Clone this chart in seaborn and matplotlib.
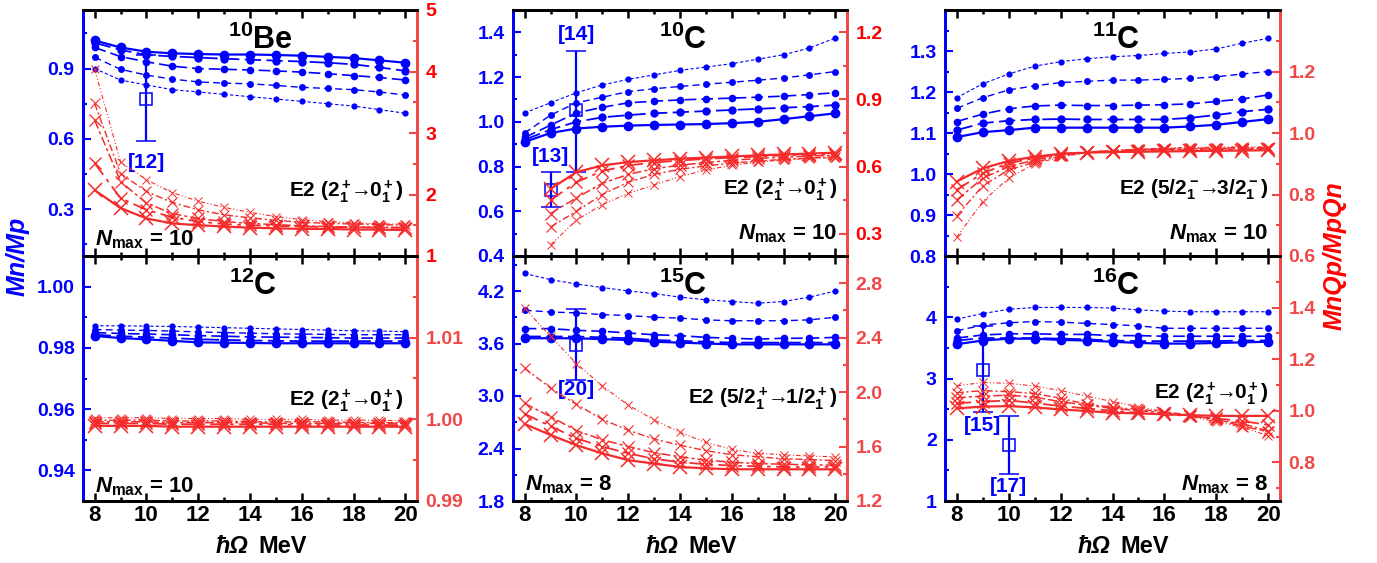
import matplotlib
matplotlib.use('Agg')
import matplotlib.pyplot as plt
import seaborn as sns
from matplotlib.ticker import MultipleLocator, FixedLocator, FormatStrFormatter, AutoMinorLocator

# hbar*Omega grid (MeV)
HW = [8, 9, 10, 11, 12, 13, 14, 15, 16, 17, 18, 19, 20]
HW_C10_RED = [9, 10, 11, 12, 13, 14, 15, 16, 17, 18, 19, 20]

# series order: solid (largest markers) first, thinnest dashed last
BE10_BLUE = [
    [1.02, 0.99, 0.972, 0.965, 0.962, 0.96, 0.96, 0.958, 0.955, 0.95, 0.945, 0.935, 0.925],
    [1.01, 0.98, 0.958, 0.952, 0.947, 0.942, 0.938, 0.934, 0.93, 0.925, 0.918, 0.905, 0.89],
    [0.99, 0.951, 0.929, 0.91, 0.9, 0.897, 0.894, 0.89, 0.885, 0.878, 0.87, 0.862, 0.851],
    [0.948, 0.897, 0.872, 0.855, 0.843, 0.838, 0.835, 0.828, 0.82, 0.815, 0.81, 0.8, 0.787],
    [0.9, 0.851, 0.83, 0.81, 0.8, 0.79, 0.78, 0.77, 0.76, 0.75, 0.74, 0.725, 0.709],
]
BE10_RED = [
    [2.07, 1.78, 1.61, 1.53, 1.5, 1.48, 1.46, 1.45, 1.44, 1.44, 1.43, 1.43, 1.42],
    [2.51, 1.94, 1.75, 1.63, 1.56, 1.52, 1.5, 1.49, 1.48, 1.47, 1.47, 1.46, 1.46],
    [3.21, 2.21, 1.86, 1.69, 1.61, 1.56, 1.53, 1.51, 1.49, 1.48, 1.47, 1.47, 1.46],
    [3.48, 2.34, 2.05, 1.87, 1.75, 1.67, 1.62, 1.58, 1.55, 1.53, 1.52, 1.51, 1.5],
    [4.04, 2.53, 2.24, 2.03, 1.89, 1.79, 1.71, 1.64, 1.59, 1.56, 1.54, 1.52, 1.52],
]
C12_BLUE = [
    [0.9839, 0.9832, 0.9828, 0.9823, 0.9818, 0.9817, 0.9816, 0.9815, 0.9815, 0.9815, 0.9815, 0.9815, 0.9815],
    [0.9843, 0.9838, 0.9835, 0.9832, 0.9828, 0.9826, 0.9824, 0.9823, 0.9822, 0.9822, 0.9822, 0.9822, 0.9822],
    [0.9850, 0.9847, 0.9845, 0.9843, 0.9840, 0.9838, 0.9836, 0.9835, 0.9834, 0.9833, 0.9832, 0.9832, 0.9832],
    [0.9860, 0.9858, 0.9857, 0.9855, 0.9852, 0.9850, 0.9848, 0.9846, 0.9845, 0.9844, 0.9843, 0.9843, 0.9843],
    [0.9872, 0.9872, 0.9871, 0.9870, 0.9868, 0.9866, 0.9864, 0.9862, 0.9860, 0.9858, 0.9856, 0.9855, 0.9853],
]
C12_RED = [
    [0.9992, 0.9992, 0.9992, 0.9991, 0.9991, 0.9991, 0.9991, 0.9991, 0.9991, 0.9991, 0.9991, 0.9991, 0.9991],
    [0.9995, 0.9995, 0.9995, 0.9994, 0.9994, 0.9994, 0.9994, 0.9994, 0.9993, 0.9993, 0.9993, 0.9993, 0.9993],
    [0.9997, 0.9997, 0.9997, 0.9996, 0.9996, 0.9996, 0.9996, 0.9995, 0.9995, 0.9995, 0.9995, 0.9995, 0.9995],
    [0.9999, 0.9999, 0.9999, 0.9998, 0.9998, 0.9998, 0.9997, 0.9997, 0.9997, 0.9997, 0.9996, 0.9996, 0.9996],
    [1.0002, 1.0002, 1.0002, 1.0001, 1.0001, 1.0001, 1.0000, 1.0000, 1.0000, 0.9999, 0.9999, 0.9999, 0.9998],
]
C10_BLUE = [
    [0.91, 0.95, 0.97, 0.978, 0.983, 0.986, 0.988, 0.99, 0.994, 1.0, 1.012, 1.025, 1.038],
    [0.92, 0.965, 1.0, 1.02, 1.03, 1.038, 1.043, 1.048, 1.053, 1.058, 1.063, 1.068, 1.075],
    [0.93, 0.985, 1.04, 1.065, 1.085, 1.092, 1.098, 1.102, 1.106, 1.11, 1.115, 1.122, 1.13],
    [0.95, 1.03, 1.085, 1.11, 1.135, 1.148, 1.158, 1.168, 1.177, 1.186, 1.196, 1.21, 1.225],
    [1.04, 1.085, 1.13, 1.165, 1.19, 1.21, 1.23, 1.245, 1.26, 1.28, 1.30, 1.33, 1.375],
]
C10_RED = [
    [0.5, 0.575, 0.605, 0.62, 0.628, 0.635, 0.64, 0.645, 0.65, 0.654, 0.658, 0.662],
    [0.45, 0.53, 0.58, 0.605, 0.618, 0.627, 0.634, 0.64, 0.645, 0.65, 0.653, 0.656],
    [0.39, 0.46, 0.525, 0.565, 0.59, 0.606, 0.618, 0.628, 0.636, 0.642, 0.647, 0.65],
    [0.33, 0.40, 0.475, 0.53, 0.565, 0.588, 0.603, 0.615, 0.625, 0.632, 0.638, 0.643],
    [0.25, 0.36, 0.43, 0.48, 0.518, 0.555, 0.585, 0.605, 0.62, 0.63, 0.636, 0.64],
]
C15_BLUE = [
    [3.66, 3.66, 3.66, 3.65, 3.64, 3.62, 3.61, 3.60, 3.59, 3.59, 3.59, 3.59, 3.59],
    [3.68, 3.68, 3.68, 3.67, 3.66, 3.64, 3.63, 3.62, 3.61, 3.61, 3.61, 3.61, 3.61],
    [3.77, 3.77, 3.75, 3.74, 3.72, 3.70, 3.69, 3.67, 3.66, 3.65, 3.66, 3.66, 3.67],
    [3.98, 3.96, 3.95, 3.93, 3.92, 3.90, 3.89, 3.87, 3.86, 3.86, 3.86, 3.87, 3.90],
    [4.40, 4.33, 4.28, 4.24, 4.20, 4.17, 4.13, 4.10, 4.08, 4.06, 4.08, 4.13, 4.20],
]
C15_RED = [
    [1.766, 1.685, 1.61, 1.55, 1.50, 1.475, 1.45, 1.44, 1.433, 1.433, 1.433, 1.433, 1.433],
    [1.84, 1.75, 1.66, 1.60, 1.55, 1.51, 1.485, 1.47, 1.46, 1.455, 1.45, 1.45, 1.45],
    [1.917, 1.82, 1.717, 1.65, 1.60, 1.555, 1.525, 1.50, 1.485, 1.475, 1.47, 1.465, 1.464],
    [2.175, 2.03, 1.91, 1.80, 1.72, 1.655, 1.61, 1.57, 1.54, 1.525, 1.51, 1.505, 1.496],
    [2.616, 2.41, 2.21, 2.045, 1.905, 1.795, 1.705, 1.63, 1.58, 1.55, 1.54, 1.53, 1.525],
]
C11_BLUE = [
    [1.09, 1.102, 1.107, 1.113, 1.113, 1.113, 1.113, 1.113, 1.113, 1.116, 1.12, 1.127, 1.134],
    [1.107, 1.124, 1.13, 1.133, 1.134, 1.133, 1.133, 1.133, 1.133, 1.137, 1.144, 1.152, 1.158],
    [1.128, 1.146, 1.159, 1.166, 1.168, 1.167, 1.167, 1.168, 1.169, 1.171, 1.177, 1.183, 1.193],
    [1.16, 1.186, 1.205, 1.215, 1.223, 1.226, 1.229, 1.229, 1.231, 1.233, 1.237, 1.244, 1.25],
    [1.186, 1.22, 1.244, 1.263, 1.274, 1.281, 1.286, 1.289, 1.294, 1.298, 1.305, 1.319, 1.331],
]
C11_RED = [
    [0.842, 0.885, 0.909, 0.923, 0.932, 0.936, 0.938, 0.939, 0.94, 0.941, 0.942, 0.943, 0.944],
    [0.815, 0.869, 0.902, 0.918, 0.932, 0.938, 0.941, 0.943, 0.944, 0.945, 0.946, 0.947, 0.947],
    [0.782, 0.853, 0.891, 0.912, 0.928, 0.937, 0.942, 0.945, 0.947, 0.948, 0.949, 0.95, 0.95],
    [0.73, 0.828, 0.88, 0.905, 0.925, 0.937, 0.943, 0.947, 0.949, 0.95, 0.951, 0.952, 0.952],
    [0.661, 0.777, 0.853, 0.9, 0.922, 0.936, 0.943, 0.948, 0.951, 0.953, 0.954, 0.955, 0.955],
]
C16_BLUE = [
    [3.56, 3.62, 3.65, 3.65, 3.63, 3.62, 3.60, 3.58, 3.57, 3.57, 3.58, 3.59, 3.60],
    [3.62, 3.66, 3.66, 3.66, 3.65, 3.64, 3.62, 3.61, 3.61, 3.61, 3.61, 3.62, 3.62],
    [3.66, 3.71, 3.73, 3.73, 3.72, 3.72, 3.70, 3.70, 3.69, 3.69, 3.69, 3.69, 3.69],
    [3.78, 3.87, 3.91, 3.93, 3.92, 3.90, 3.88, 3.86, 3.82, 3.82, 3.82, 3.82, 3.82],
    [3.97, 4.06, 4.13, 4.16, 4.16, 4.16, 4.15, 4.12, 4.10, 4.09, 4.09, 4.09, 4.09],
]
C16_RED = [
    [1.009, 1.016, 1.018, 1.013, 1.005, 0.999, 0.992, 0.99, 0.986, 0.983, 0.98, 0.98, 0.98],
    [1.029, 1.035, 1.04, 1.03, 1.018, 1.009, 1.0, 0.992, 0.986, 0.98, 0.97, 0.96, 0.945],
    [1.05, 1.057, 1.06, 1.053, 1.035, 1.022, 1.009, 1.0, 0.992, 0.98, 0.967, 0.94, 0.919],
    [1.07, 1.078, 1.074, 1.067, 1.048, 1.026, 1.013, 1.005, 0.996, 0.983, 0.965, 0.95, 0.922],
    [1.096, 1.11, 1.106, 1.096, 1.078, 1.057, 1.035, 1.016, 0.996, 0.977, 0.958, 0.936, 0.903],
]

# experimental points: x, value, lower, upper, reference label
BE10_EXP = ([10], [0.77], [0.59], [0.96], ["[12]"])
C10_EXP = ([9, 10], [0.695, 1.053], [0.618, 0.777], [0.777, 1.318], ["[13]", "[14]"])
C15_EXP = ([10], [3.58], [3.18], [3.99], ["[20]"])
C16_EXP = ([9, 10], [3.14, 1.91], [2.46, 1.44], [3.85, 2.39], ["[15]", "[17]"])

# labelled ticks (left blue axis, right red axis)
BE10_TICKS = ([0.3, 0.6, 0.9], [1, 2, 3, 4, 5])
C12_TICKS = ([0.94, 0.96, 0.98, 1.00], [0.99, 1.00, 1.01])
C10_TICKS = ([0.4, 0.6, 0.8, 1.0, 1.2, 1.4], [0.3, 0.6, 0.9, 1.2])
C15_TICKS = ([1.8, 2.4, 3.0, 3.6, 4.2], [1.2, 1.6, 2.0, 2.4, 2.8])
C11_TICKS = ([0.8, 0.9, 1.0, 1.1, 1.2, 1.3], [0.6, 0.8, 1.0, 1.2])
C16_TICKS = ([1, 2, 3, 4], [0.8, 1.0, 1.2, 1.4])

BLUE = '#0000ff'
RED = '#f52a2a'
RED_LIGHT = '#f04848'

blue_styles = [
    dict(ls='-', lw=1.6, ms=7),
    dict(ls=(0, (9, 3)), lw=1.3, ms=6),
    dict(ls=(0, (7, 3)), lw=1.2, ms=5.5),
    dict(ls=(0, (5, 3)), lw=1.0, ms=5),
    dict(ls=(0, (3, 2)), lw=0.8, ms=4.5),
]
red_styles = [
    dict(ls='-', lw=1.6, ms=10, mew=1.1),
    dict(ls=(0, (8, 3, 2, 3)), lw=1.3, ms=9, mew=1.0),
    dict(ls=(0, (6, 2, 2, 2)), lw=1.1, ms=8, mew=0.9),
    dict(ls=(0, (5, 2, 1.5, 2)), lw=1.0, ms=7, mew=0.8),
    dict(ls=(0, (4, 2, 1, 2, 1, 2)), lw=0.8, ms=6, mew=0.7),
]

sns.set_style('ticks')
plt.rcParams['font.family'] = ['Liberation Sans', 'DejaVu Sans']
plt.rcParams['font.weight'] = 'bold'
plt.rcParams['mathtext.fontset'] = 'custom'
plt.rcParams['mathtext.rm'] = 'Liberation Sans:bold'
plt.rcParams['mathtext.it'] = 'Liberation Sans:bold:italic'
plt.rcParams['mathtext.bf'] = 'Liberation Sans:bold'
plt.rcParams['mathtext.default'] = 'regular'

W, H = 1377, 563
fig = plt.figure(figsize=(W / 100, H / 100), dpi=100)

col_px = [(83, 334), (513, 334), (945, 335)]
row_px = [(10, 256), (256, 501)]  # top, bottom pixel of each row

NM10 = r"$\mathit{N}_{\mathrm{max}}$ = 10"
NM8 = r"$\mathit{N}_{\mathrm{max}}$ = 8"
E2_20 = r"E2 ($2^+_1\!\!\rightarrow\!\!0^+_1$)"

panels = [
    dict(r=0, c=0, title=r"$^{10}$Be", tx=0.53, blue=BE10_BLUE, red=BE10_RED, rx=HW,
         yl=(0.1, 1.15), yr=(1, 5), ticks=BE10_TICKS, fl='%.1f', fr='%d',
         e2=E2_20, e2pos=(0.96, 0.26), nm=NM10, nmpos=(0.035, 0.065), nmha='left',
         exp=BE10_EXP, labys=[0.5], rcol='#ff0000'),
    dict(r=1, c=0, title=r"$^{12}$C", tx=0.51, blue=C12_BLUE, red=C12_RED, rx=HW,
         yl=(0.93, 1.01), yr=(0.99, 1.02), ticks=C12_TICKS, fl='%.2f', fr='%.2f',
         e2=E2_20, e2pos=(0.96, 0.41), nm=NM10, nmpos=(0.035, 0.06), nmha='left',
         exp=None, labys=[], rcol=RED_LIGHT),
    dict(r=0, c=1, title=r"$^{10}$C", tx=0.51, blue=C10_BLUE, red=C10_RED, rx=HW_C10_RED,
         yl=(0.4, 1.5), yr=(0.2, 1.3), ticks=C10_TICKS, fl='%.1f', fr='%.1f',
         e2=E2_20, e2pos=(0.97, 0.27), nm=NM10, nmpos=(0.97, 0.09), nmha='right',
         exp=C10_EXP, labys=[0.845, 1.39], rcol='#ff0000'),
    dict(r=1, c=1, title=r"$^{15}$C", tx=0.51, blue=C15_BLUE, red=C15_RED, rx=HW,
         yl=(1.8, 4.6), yr=(1.2, 3.0), ticks=C15_TICKS, fl='%.1f', fr='%.1f',
         e2=r"E2 ($5/2^+_1\!\!\rightarrow\!\!1/2^+_1$)", e2pos=(0.97, 0.42),
         nm=NM8, nmpos=(0.035, 0.065), nmha='left',
         exp=C15_EXP, labys=[3.07], rcol=RED_LIGHT),
    dict(r=0, c=2, title=r"$^{11}$C", tx=0.51, blue=C11_BLUE, red=C11_RED, rx=HW,
         yl=(0.8, 1.4), yr=(0.6, 1.4), ticks=C11_TICKS, fl='%.1f', fr='%.1f',
         e2=r"E2 ($5/2^-_1\!\!\rightarrow\!\!3/2^-_1$)", e2pos=(0.965, 0.27),
         nm=NM10, nmpos=(0.965, 0.09), nmha='right',
         exp=None, labys=[], rcol=RED_LIGHT),
    dict(r=1, c=2, title=r"$^{16}$C", tx=0.51, blue=C16_BLUE, red=C16_RED, rx=HW,
         yl=(1, 5), yr=(0.65, 1.6), ticks=C16_TICKS, fl='%d', fr='%.1f',
         e2=E2_20, e2pos=(0.965, 0.44), nm=NM8, nmpos=(0.965, 0.065), nmha='right',
         exp=C16_EXP, labys=[2.24, 1.23], rcol=RED_LIGHT),
]

for p in panels:
    left, width = col_px[p['c']]
    top, bot = row_px[p['r']]
    ax = fig.add_axes([left / W, 1 - bot / H, width / W, (bot - top) / H])
    ax2 = ax.twinx()

    for ys, st in zip(p['blue'], blue_styles):
        sns.lineplot(x=HW, y=ys, ax=ax, color=BLUE, marker='o', ls=st['ls'], lw=st['lw'],
                     ms=st['ms'], mec=BLUE, mew=0, zorder=3)
    for ys, st in zip(p['red'], red_styles):
        sns.lineplot(x=p['rx'], y=ys, ax=ax2, color=RED, marker='x', ls=st['ls'], lw=st['lw'],
                     ms=st['ms'], mec=RED, mew=st['mew'], zorder=3)

    if p['exp'] is not None:
        ex, ev, elo, ehi, elab = p['exp']
        yerr = [[v - lo for v, lo in zip(ev, elo)], [hi - v for v, hi in zip(ev, ehi)]]
        ax.errorbar(ex, ev, yerr=yerr, fmt='s', ms=8, mfc='none', mec=BLUE, mew=1.1,
                    ecolor=BLUE, elinewidth=1.6, capsize=7, capthick=1.6, zorder=5)
        for xx, yy, lab in zip(ex, p['labys'], elab):
            ax.text(xx, yy, lab, color=BLUE, fontsize=15, ha='center', va='center', zorder=6)

    ax.set_xlim(7.55, 20.45)
    ax.set_ylim(*p['yl'])
    ax2.set_ylim(*p['yr'])
    ax.xaxis.set_major_locator(MultipleLocator(2))
    ax.xaxis.set_minor_locator(MultipleLocator(1))
    ax.yaxis.set_major_locator(FixedLocator(p['ticks'][0]))
    ax.yaxis.set_minor_locator(AutoMinorLocator(2))
    ax2.yaxis.set_major_locator(FixedLocator(p['ticks'][1]))
    ax2.yaxis.set_minor_locator(AutoMinorLocator(2))
    ax.yaxis.set_major_formatter(FormatStrFormatter(p['fl']))
    ax2.yaxis.set_major_formatter(FormatStrFormatter(p['fr']))

    ax.tick_params(axis='x', which='both', direction='in', top=True, bottom=True,
                   labelsize=16, width=1.8, colors='black', pad=3)
    ax.tick_params(axis='x', which='major', length=6)
    ax.tick_params(axis='x', which='minor', length=3)
    ax.tick_params(axis='y', which='both', direction='in', left=True, right=False,
                   labelsize=14, width=1.5, colors=BLUE, pad=6)
    ax.tick_params(axis='y', which='major', length=6)
    ax.tick_params(axis='y', which='minor', length=3)
    ax2.tick_params(axis='y', which='both', direction='in', right=True, left=False,
                    labelsize=14, width=1.5, colors=RED_LIGHT, labelcolor=p['rcol'], pad=6)
    ax2.tick_params(axis='y', which='major', length=6)
    ax2.tick_params(axis='y', which='minor', length=3)
    if p['r'] == 0:
        ax.tick_params(axis='x', labelbottom=False)
    else:
        # x label: italic hbar*Omega followed by upright MeV
        ax.text(0.495, -0.185, 'ħΩ', transform=ax.transAxes, fontsize=17,
                fontstyle='italic', ha='right', va='center', color='black')
        ax.text(0.525, -0.185, 'MeV', transform=ax.transAxes, fontsize=17,
                ha='left', va='center', color='black')
    ax.set_xlabel('')
    ax.set_ylabel('')
    ax2.set_ylabel('')

    for a in (ax, ax2):
        for s in a.spines.values():
            s.set_linewidth(2)
            s.set_color('black')
        a.spines['left'].set_color(BLUE)
        a.spines['right'].set_color(RED_LIGHT)

    ax2.text(p['tx'], 0.875, p['title'], transform=ax2.transAxes, fontsize=22,
             ha='center', va='center', color='black')
    ax2.text(p['e2pos'][0], p['e2pos'][1], p['e2'], transform=ax2.transAxes,
             fontsize=15, ha='right', va='center', color='black')
    ax2.text(p['nmpos'][0], p['nmpos'][1], p['nm'], transform=ax2.transAxes,
             fontsize=16, ha=p['nmha'], va='center', color='black')

fig.text(0.013, 1 - 256 / H, 'Mn/Mp', rotation=90, color=BLUE, fontsize=18,
         fontstyle='italic', fontweight='bold', ha='center', va='center')
fig.text(0.969, 1 - 256 / H, 'MnQp/MpQn', rotation=90, color='#ff0000', fontsize=18,
         fontstyle='italic', fontweight='bold', ha='center', va='center')

fig.savefig('out.png', dpi=100)
